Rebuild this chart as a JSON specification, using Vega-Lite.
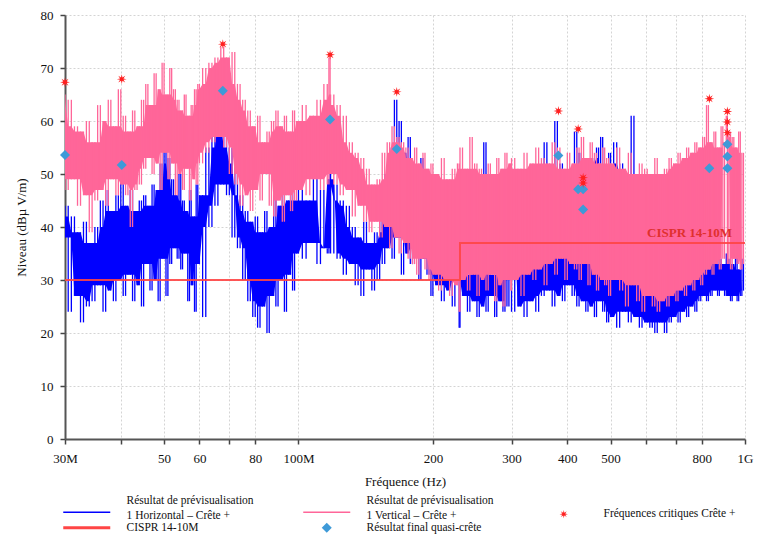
{
"$schema": "https://vega.github.io/schema/vega-lite/v6.json",
"width": 680, "height": 424,
"autosize": {"type": "none"},
"padding": {"left": 65, "top": 15, "right": 26, "bottom": 98},
"background": "white",
"config": {"view": {"stroke": null}, "font": "Liberation Serif"},
"datasets": {
"traces": [
{"f":30,"h":38,"v":65},{"f":30.5,"h":44,"v":47},{"f":31,"h":24,"v":64},{"f":31.5,"h":42,"v":49},{"f":32,"h":27,"v":59},{"f":32.5,"h":39,"v":44},{"f":33,"h":22,"v":58},{"f":33.5,"h":41,"v":46},{"f":34,"h":25,"v":60},{"f":34.5,"h":37,"v":39},{"f":35,"h":26,"v":56},{"f":35.5,"h":40,"v":45},{"f":36,"h":29,"v":63},{"f":36.5,"h":45,"v":47},{"f":37,"h":24,"v":60},{"f":37.5,"h":47,"v":44},{"f":38,"h":28,"v":64},{"f":38.5,"h":43,"v":49},{"f":39,"h":26,"v":59},{"f":39.5,"h":46,"v":46},{"f":40,"h":30,"v":66},{"f":40.5,"h":49,"v":48},{"f":41,"h":27,"v":61},{"f":41.5,"h":44,"v":46},{"f":42,"h":31,"v":58},{"f":42.5,"h":47,"v":40},{"f":43,"h":26,"v":62},{"f":43.5,"h":43,"v":47},{"f":44,"h":29,"v":59},{"f":44.5,"h":45,"v":48},{"f":45,"h":25,"v":64},{"f":45.5,"h":46,"v":51},{"f":46,"h":33,"v":67},{"f":46.5,"h":44,"v":53},{"f":47,"h":28,"v":63},{"f":47.5,"h":48,"v":50},{"f":48,"h":30,"v":69},{"f":48.5,"h":47,"v":52},{"f":49,"h":26,"v":66},{"f":49.5,"h":52,"v":47},{"f":50,"h":34,"v":71},{"f":50.5,"h":56,"v":54},{"f":51,"h":27,"v":65},{"f":51.5,"h":53,"v":49},{"f":52,"h":33,"v":70},{"f":52.5,"h":49,"v":52},{"f":53,"h":36,"v":66},{"f":53.5,"h":46,"v":46},{"f":54,"h":34,"v":64},{"f":54.5,"h":50,"v":50},{"f":55,"h":32,"v":62},{"f":55.5,"h":45,"v":47},{"f":56,"h":35,"v":65},{"f":56.5,"h":43,"v":51},{"f":57,"h":26,"v":61},{"f":57.5,"h":47,"v":45},{"f":58,"h":29,"v":63},{"f":58.5,"h":42,"v":49},{"f":59,"h":24,"v":66},{"f":59.5,"h":48,"v":48},
{"f":60,"h":33,"v":67},{"f":61,"h":46,"v":52},{"f":62,"h":23,"v":70},{"f":63,"h":55,"v":54},{"f":64,"h":40,"v":71},{"f":65,"h":60,"v":56},{"f":66,"h":44,"v":72},{"f":67,"h":62,"v":57},{"f":68,"h":48,"v":74},{"f":69,"h":60,"v":55},{"f":70,"h":46,"v":72},{"f":71,"h":55,"v":50},{"f":72,"h":38,"v":73},{"f":73,"h":52,"v":48},{"f":74,"h":36,"v":67},{"f":75,"h":46,"v":44},{"f":76,"h":30,"v":64},{"f":77,"h":43,"v":46},{"f":78,"h":26,"v":62},{"f":79,"h":41,"v":43},{"f":80,"h":23,"v":59},{"f":81,"h":42,"v":47},{"f":82,"h":21,"v":61},{"f":83,"h":39,"v":45},{"f":84,"h":25,"v":56},{"f":85,"h":43,"v":50},{"f":86,"h":20,"v":58},{"f":87,"h":40,"v":44},{"f":88,"h":27,"v":60},{"f":89,"h":46,"v":42},{"f":90,"h":25,"v":62},{"f":91,"h":44,"v":45},{"f":92,"h":30,"v":59},{"f":93,"h":49,"v":41},{"f":94,"h":24,"v":61},{"f":95,"h":45,"v":46},{"f":96,"h":31,"v":58},{"f":97,"h":47,"v":43},{"f":98,"h":28,"v":62},{"f":99,"h":45,"v":45},
{"f":100,"h":35,"v":60},{"f":102,"h":48,"v":47},{"f":104,"h":34,"v":63},{"f":106,"h":45,"v":46},{"f":108,"h":37,"v":61},{"f":110,"h":50,"v":49},{"f":112,"h":33,"v":64},{"f":114,"h":47,"v":47},{"f":116,"h":36,"v":67},{"f":117,"h":35,"v":48},{"f":117.7,"h":49,"v":72},{"f":118,"h":51,"v":50},{"f":120,"h":35,"v":65},{"f":122,"h":48,"v":48},{"f":124,"h":34,"v":63},{"f":126,"h":45,"v":46},{"f":128,"h":31,"v":61},{"f":130,"h":44,"v":47},{"f":132,"h":33,"v":56},{"f":134,"h":40,"v":42},{"f":136,"h":29,"v":54},{"f":138,"h":38,"v":44},{"f":140,"h":27,"v":53},{"f":142,"h":41,"v":41},{"f":144,"h":32,"v":51},{"f":146,"h":37,"v":39},{"f":148,"h":28,"v":48},{"f":150,"h":39,"v":41},{"f":152,"h":30,"v":49},{"f":154,"h":46,"v":38},{"f":156,"h":33,"v":54},{"f":158,"h":50,"v":40},{"f":160,"h":36,"v":56},{"f":162,"h":55,"v":36},{"f":164,"h":34,"v":59},{"f":166,"h":64,"v":38},{"f":168,"h":38,"v":57},{"f":170,"h":60,"v":35},{"f":172,"h":31,"v":56},{"f":174,"h":54,"v":37},{"f":176,"h":35,"v":55},{"f":178,"h":57,"v":34},{"f":180,"h":33,"v":53},{"f":182,"h":51,"v":33},{"f":184,"h":36,"v":55},{"f":186,"h":48,"v":31},{"f":188,"h":30,"v":52},{"f":190,"h":53,"v":34},{"f":192,"h":34,"v":54},{"f":194,"h":46,"v":32},{"f":196,"h":31,"v":51},{"f":198,"h":44,"v":30},
{"f":200,"h":27,"v":52},{"f":203,"h":37,"v":31},{"f":206,"h":29,"v":50},{"f":209,"h":38,"v":28},{"f":212,"h":26,"v":53},{"f":215,"h":35,"v":30},{"f":218,"h":28,"v":49},{"f":221,"h":39,"v":27},{"f":224,"h":25,"v":51},{"f":227,"h":36,"v":29},{"f":229,"h":30,"v":52},{"f":230,"h":21,"v":24},{"f":233,"h":34,"v":55},{"f":236,"h":27,"v":30},{"f":239,"h":31,"v":51},{"f":242,"h":24,"v":28},{"f":245,"h":44,"v":57},{"f":248,"h":26,"v":31},{"f":251,"h":33,"v":52},{"f":254,"h":23,"v":27},{"f":257,"h":32,"v":51},{"f":260,"h":25,"v":30},{"f":263,"h":56,"v":50},{"f":266,"h":24,"v":28},{"f":269,"h":35,"v":52},{"f":272,"h":27,"v":31},{"f":275,"h":31,"v":50},{"f":278,"h":23,"v":26},{"f":281,"h":33,"v":53},{"f":284,"h":26,"v":29},{"f":287,"h":36,"v":51},{"f":290,"h":24,"v":25},{"f":293,"h":34,"v":54},{"f":296,"h":25,"v":30},{"f":299,"h":40,"v":52},
{"f":300,"h":38,"v":28},{"f":305,"h":24,"v":53},{"f":310,"h":50,"v":30},{"f":315,"h":25,"v":51},{"f":320,"h":36,"v":27},{"f":325,"h":23,"v":54},{"f":330,"h":37,"v":31},{"f":335,"h":26,"v":52},{"f":340,"h":34,"v":30},{"f":345,"h":24,"v":55},{"f":350,"h":47,"v":32},{"f":355,"h":27,"v":53},{"f":360,"h":56,"v":29},{"f":365,"h":28,"v":52},{"f":370,"h":50,"v":33},{"f":375,"h":25,"v":56},{"f":380,"h":60,"v":31},{"f":385,"h":27,"v":55},{"f":390,"h":52,"v":34},{"f":395,"h":26,"v":51},{"f":400,"h":45,"v":30},{"f":405,"h":29,"v":54},{"f":410,"h":50,"v":33},{"f":415,"h":27,"v":52},{"f":420,"h":58,"v":32},{"f":425,"h":25,"v":55},{"f":430,"h":54,"v":30},{"f":435,"h":26,"v":57},{"f":440,"h":48,"v":33},{"f":445,"h":24,"v":53},{"f":450,"h":52,"v":29},{"f":455,"h":25,"v":56},{"f":460,"h":53,"v":31},{"f":465,"h":23,"v":54},{"f":470,"h":55,"v":28},{"f":475,"h":26,"v":52},{"f":480,"h":57,"v":30},{"f":485,"h":24,"v":55},{"f":490,"h":49,"v":29},{"f":495,"h":22,"v":53},
{"f":500,"h":54,"v":27},{"f":508,"h":23,"v":52},{"f":516,"h":56,"v":30},{"f":524,"h":21,"v":55},{"f":532,"h":52,"v":28},{"f":540,"h":24,"v":51},{"f":548,"h":50,"v":25},{"f":556,"h":22,"v":54},{"f":564,"h":61,"v":29},{"f":572,"h":23,"v":50},{"f":580,"h":33,"v":26},{"f":588,"h":21,"v":52},{"f":596,"h":30,"v":24},{"f":604,"h":22,"v":51},{"f":612,"h":48,"v":27},{"f":620,"h":21,"v":50},{"f":628,"h":29,"v":25},{"f":636,"h":20,"v":53},{"f":644,"h":28,"v":24},{"f":652,"h":22,"v":50},{"f":660,"h":27,"v":26},{"f":668,"h":20,"v":51},{"f":676,"h":29,"v":25},{"f":684,"h":22,"v":53},{"f":692,"h":28,"v":27},{"f":700,"h":23,"v":52},{"f":708,"h":30,"v":26},{"f":716,"h":22,"v":54},{"f":724,"h":29,"v":28},{"f":732,"h":24,"v":53},{"f":740,"h":31,"v":27},{"f":748,"h":23,"v":55},{"f":756,"h":30,"v":29},{"f":764,"h":25,"v":54},{"f":772,"h":32,"v":28},{"f":780,"h":24,"v":56},{"f":788,"h":31,"v":30},{"f":796,"h":26,"v":55},{"f":804,"h":33,"v":29},{"f":812,"h":27,"v":57},{"f":820,"h":32,"v":31},{"f":828,"h":26,"v":63},{"f":836,"h":34,"v":32},{"f":844,"h":27,"v":56},{"f":852,"h":33,"v":31},{"f":860,"h":28,"v":58},{"f":868,"h":35,"v":33},{"f":876,"h":27,"v":55},{"f":884,"h":34,"v":32},{"f":892,"h":28,"v":59},{"f":900,"h":33,"v":34},{"f":908,"h":27,"v":56},{"f":913,"h":35,"v":61},{"f":920,"h":27,"v":33},{"f":928,"h":34,"v":58},{"f":936,"h":26,"v":32},{"f":944,"h":33,"v":57},{"f":952,"h":27,"v":34},{"f":960,"h":35,"v":55},{"f":968,"h":26,"v":33},{"f":976,"h":32,"v":58},{"f":984,"h":27,"v":32},{"f":992,"h":34,"v":54},{"f":1000,"h":28,"v":33}
],
"limit": [{"f":30,"lim":30,"o":1},{"f":230,"lim":30,"o":2},{"f":230,"lim":37,"o":3},{"f":1000,"lim":37,"o":4}],
"crit": [{"f":30,"y":67.3},{"f":40.2,"y":67.9},{"f":67.7,"y":74.5},{"f":117.7,"y":72.5},{"f":166,"y":65.5},{"f":382,"y":61.9},{"f":423,"y":58.5},{"f":434,"y":49.3},{"f":434,"y":48.3},{"f":832,"y":64.2},{"f":913,"y":61.8},{"f":913,"y":59.8},{"f":913,"y":57.8}],
"qp": [{"f":30,"y":53.6},{"f":40.2,"y":51.7},{"f":67.7,"y":65.7},{"f":117.7,"y":60.3},{"f":166,"y":54.7},{"f":382,"y":53.5},{"f":423,"y":47.1},{"f":434,"y":47.1},{"f":434,"y":43.3},{"f":832,"y":51.1},{"f":913,"y":55.6},{"f":913,"y":53.3},{"f":913,"y":51.1}],
"note": [{"f":935,"y":38.9,"label":"CISPR 14-10M"}]
},
"layer": [
{
"data": {"name": "traces"},
"transform": [
{"window": [{"op": "max", "field": "h", "as": "hp"}, {"op": "min", "field": "h", "as": "hq"}], "frame": [0, 1], "sort": [{"field": "f"}]},
{"window": [{"op": "min", "field": "hp", "as": "ht"}, {"op": "max", "field": "hq", "as": "hb"}], "frame": [-2, 2], "sort": [{"field": "f"}]}
],
"mark": {"type": "area", "color": "#0000FF", "opacity": 1, "clip": true},
"encoding": {
"x": {"field": "f", "type": "quantitative"},
"y": {"field": "hb", "type": "quantitative", "title": "Niveau (dBµ V/m)"},
"y2": {"field": "ht"}
}
},
{
"data": {"name": "traces"},
"transform": [
{"window": [{"op": "max", "field": "h", "as": "hp"}, {"op": "min", "field": "h", "as": "hq"}], "frame": [0, 1], "sort": [{"field": "f"}]}
],
"mark": {"type": "rule", "strokeWidth": 1.3, "clip": true},
"encoding": {
"x": {"field": "f", "type": "quantitative", "scale": {"type": "log", "domain": [30, 1000], "nice": false},
"axis": {"values": [30,40,50,60,70,80,100,200,300,400,500,600,700,800,1000],
"labelExpr": "datum.value == 30 ? '30M' : datum.value == 100 ? '100M' : datum.value == 1000 ? '1G' : (datum.value == 40 || datum.value == 70 || datum.value == 600 || datum.value == 700) ? '' : '' + datum.value",
"title": "Fréquence (Hz)", "grid": true, "gridDash": [2, 2], "gridColor": "#d4d4d4", "domainColor": "#555", "domainWidth": 2, "tickColor": "#444", "tickWidth": 1.5, "tickSize": 5, "labelFont": "Liberation Serif", "labelFontSize": 13, "labelColor": "#111", "labelPadding": 8, "labelFlush": false, "labelOverlap": false, "titleFont": "Liberation Serif", "titleFontSize": 13, "titleFontWeight": "normal", "titleColor": "#111", "titlePadding": 10}},
"y": {"field": "hq", "type": "quantitative", "title": "Niveau (dBµ V/m)", "scale": {"domain": [0, 80], "nice": false},
"axis": {"values": [0,5,10,15,20,25,30,35,40,45,50,55,60,65,70,75,80],
"labelExpr": "datum.value % 10 == 0 ? '' + datum.value : ''",
"grid": true, "gridDash": [2, 2], "gridColor": "#d4d4d4", "domainColor": "#555", "domainWidth": 2, "tickColor": "#444", "tickWidth": 1.5, "tickSize": 5, "labelFont": "Liberation Serif", "labelFontSize": 13, "labelColor": "#111", "labelPadding": 7, "titleFont": "Liberation Serif", "titleFontSize": 13, "titleFontWeight": "normal", "titleColor": "#111", "titlePadding": 12}},
"y2": {"field": "hp"},
"color": {"datum": "H", "type": "nominal",
"scale": {"domain": ["H", "V", "C", "L", "Q"], "range": ["#0000FF", "#FF6699", "#FF2020", "#FF4545", "#3E9AD8"]},
"legend": {"orient": "none", "legendX": -2, "legendY": 491, "direction": "horizontal", "columns": 3, "title": null, "padding": 0,
"symbolSize": 100, "symbolOffset": 18, "labelOffset": 34, "columnPadding": 46, "rowPadding": -8,
"labelFont": "Liberation Serif", "labelFontSize": 11.5, "labelColor": "#111", "labelLimit": 400,
"labelExpr": "datum.value == 'H' ? ['Résultat de prévisualisation', '1 Horizontal – Crête +'] : datum.value == 'V' ? ['Résultat de prévisualisation', '1 Vertical – Crête +'] : datum.value == 'C' ? 'Fréquences critiques Crête +' : datum.value == 'L' ? 'CISPR 14-10M' : 'Résultat final quasi-crête'",
"encode": {
"symbols": {"update": {
"shape": {"signal": "datum.value == 'Q' ? 'diamond' : datum.value == 'C' ? 'M0,-1L0.145,-0.351L0.707,-0.707L0.351,-0.145L1,0L0.351,0.145L0.707,0.707L0.145,0.351L0,1L-0.145,0.351L-0.707,0.707L-0.351,0.145L-1,0L-0.351,-0.145L-0.707,-0.707L-0.145,-0.351Z' : 'M-4.7,0L4.7,0'"},
"size": {"signal": "datum.value == 'C' ? 70 : 100"},
"fill": {"signal": "datum.value == 'Q' || datum.value == 'C' ? scale('color', datum.value) : 'transparent'"},
"stroke": {"signal": "scale('color', datum.value)"},
"strokeWidth": {"signal": "datum.value == 'L' ? 3 : (datum.value == 'Q' || datum.value == 'C') ? 0 : 1.5"},
"opacity": {"value": 1}
}},
"labels": {"update": {"lineHeight": {"value": 15}, "dy": {"signal": "datum.value == 'H' || datum.value == 'V' ? -11 : 0"}}}
}}}
}
},
{
"data": {"name": "traces"},
"transform": [
{"window": [{"op": "max", "field": "v", "as": "vp"}, {"op": "min", "field": "v", "as": "vq"}], "frame": [0, 1], "sort": [{"field": "f"}]},
{"window": [{"op": "min", "field": "vp", "as": "vt"}, {"op": "max", "field": "vq", "as": "vb"}], "frame": [-2, 2], "sort": [{"field": "f"}]}
],
"mark": {"type": "area", "color": "#FF6699", "opacity": 1, "clip": true},
"encoding": {
"x": {"field": "f", "type": "quantitative"},
"y": {"field": "vb", "type": "quantitative", "title": "Niveau (dBµ V/m)"},
"y2": {"field": "vt"}
}
},
{
"data": {"name": "traces"},
"transform": [
{"window": [{"op": "max", "field": "v", "as": "vp"}, {"op": "min", "field": "v", "as": "vq"}], "frame": [0, 1], "sort": [{"field": "f"}]}
],
"mark": {"type": "rule", "strokeWidth": 1.3, "clip": true},
"encoding": {
"x": {"field": "f", "type": "quantitative"},
"y": {"field": "vq", "type": "quantitative", "title": "Niveau (dBµ V/m)"},
"y2": {"field": "vp"},
"color": {"datum": "V", "type": "nominal"}
}
},
{
"data": {"name": "limit"},
"mark": {"type": "line", "strokeWidth": 2, "opacity": 0.9},
"encoding": {
"x": {"field": "f", "type": "quantitative"},
"y": {"field": "lim", "type": "quantitative", "title": "Niveau (dBµ V/m)"},
"order": {"field": "o", "type": "quantitative"},
"color": {"datum": "L", "type": "nominal"}
}
},
{
"data": {"name": "note"},
"mark": {"type": "text", "align": "right", "baseline": "middle", "font": "Liberation Serif", "fontSize": 13, "fontWeight": "bold", "color": "#E0302E"},
"encoding": {
"x": {"field": "f", "type": "quantitative"},
"y": {"field": "y", "type": "quantitative", "title": "Niveau (dBµ V/m)"},
"text": {"field": "label"}
}
},
{
"data": {"name": "qp"},
"mark": {"type": "point", "shape": "diamond", "filled": true, "size": 100, "opacity": 1},
"encoding": {
"x": {"field": "f", "type": "quantitative"},
"y": {"field": "y", "type": "quantitative", "title": "Niveau (dBµ V/m)"},
"color": {"datum": "Q", "type": "nominal"}
}
},
{
"data": {"name": "crit"},
"mark": {"type": "point", "shape": "M0,-1L0.145,-0.351L0.707,-0.707L0.351,-0.145L1,0L0.351,0.145L0.707,0.707L0.145,0.351L0,1L-0.145,0.351L-0.707,0.707L-0.351,0.145L-1,0L-0.351,-0.145L-0.707,-0.707L-0.145,-0.351Z", "filled": true, "size": 95, "opacity": 1},
"encoding": {
"x": {"field": "f", "type": "quantitative"},
"y": {"field": "y", "type": "quantitative", "title": "Niveau (dBµ V/m)"},
"color": {"datum": "C", "type": "nominal"}
}
}
]
}
